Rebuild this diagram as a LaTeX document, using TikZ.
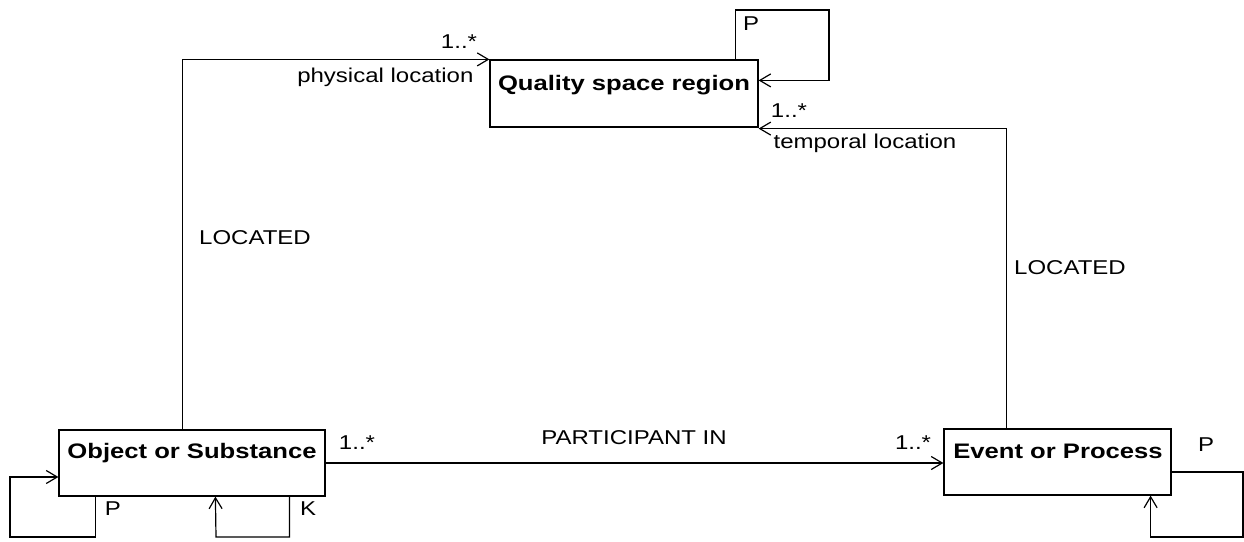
\documentclass[tikz,border=0pt]{standalone}
\usepackage{fontspec}
\usetikzlibrary{arrows.meta}
\setmainfont{Liberation Sans}
\newfontfamily\labfont{Liberation Sans}[FakeStretch=1.2]
\newfontfamily\boxfont{Liberation Sans}[FakeStretch=1.22]
\begin{document}
\begin{tikzpicture}[x=1pt,y=-1pt,line width=1.2pt,
  cls/.style={draw,rectangle,inner sep=0pt},
  boxtxt/.style={inner sep=0pt,font=\boxfont\bfseries\fontsize{21}{24}\selectfont},
  lab/.style={inner sep=0pt,font=\labfont\fontsize{20}{23}\selectfont},
  assoc/.style={-{Straight Barb[length=11pt,width=13pt]}}]
\useasboundingbox (0,0) rectangle (1244,541);
% classes
\node[cls,minimum width=268pt,minimum height=67pt] (qsr) at (624,93.5) {};
\node[cls,minimum width=266pt,minimum height=66pt] (obj) at (192,463) {};
\node[cls,minimum width=227pt,minimum height=66pt] (evt) at (1057.5,462) {};
\node[boxtxt] (qsrT) at (624,85) {Quality space region};
\node[boxtxt] (objT) at (192,453) {Object or Substance};
\node[boxtxt] (evtT) at (1058,451) {Event or Process};
% helper coordinates
\coordinate (qloop) at (829,10);
\coordinate (oPloop) at (10,537);
\coordinate (oKloop) at (216,537);
\coordinate (ePloop) at (1243,537);
% LOCATED physical
\draw[assoc] ([xshift=124pt]obj.north west) |- (qsr.north west);
\node[lab,anchor=east] (physL) at (474,77) {physical location};
\node[lab] (physM) at (459,42) {1..*};
\node[lab] (loc1) at (255,238) {LOCATED};
% LOCATED temporal
\draw[assoc] ([xshift=63pt]evt.north west) |- ([yshift=-1pt]qsr.south east);
\node[lab,anchor=west] (tempL) at (773,143) {temporal location};
\node[lab] (tempM) at (789,111) {1..*};
\node[lab] (loc2) at (1070,268) {LOCATED};
% QSR self loop
\draw[assoc] ([xshift=-23pt]qsr.north east) |- (qloop) |- ([yshift=-21pt]qsr.north east);
\node[lab] (qP) at (751,24) {P};
% participant
\draw[assoc] (obj.east) -- (obj.east -| evt.west);
\node[lab] (partL) at (634,438) {PARTICIPANT IN};
\node[lab] (partM1) at (357,443) {1..*};
\node[lab] (partM2) at (913,443) {1..*};
% object loops
\draw[assoc] ([xshift=37pt]obj.south west) |- (oPloop) |- ([yshift=-14pt]obj.west);
\node[lab] (oP) at (113,509) {P};
\draw[assoc] ([xshift=231pt]obj.south west) |- (oKloop) -- ([xshift=157pt]obj.south west);
\node[lab] (oK) at (308,509) {K};
% event loop
\draw[assoc] ([yshift=-10pt]evt.east) -| (ePloop) -| ([xshift=-21pt]evt.south east);
\node[lab] (eP) at (1206,445) {P};
\end{tikzpicture}
\end{document}
